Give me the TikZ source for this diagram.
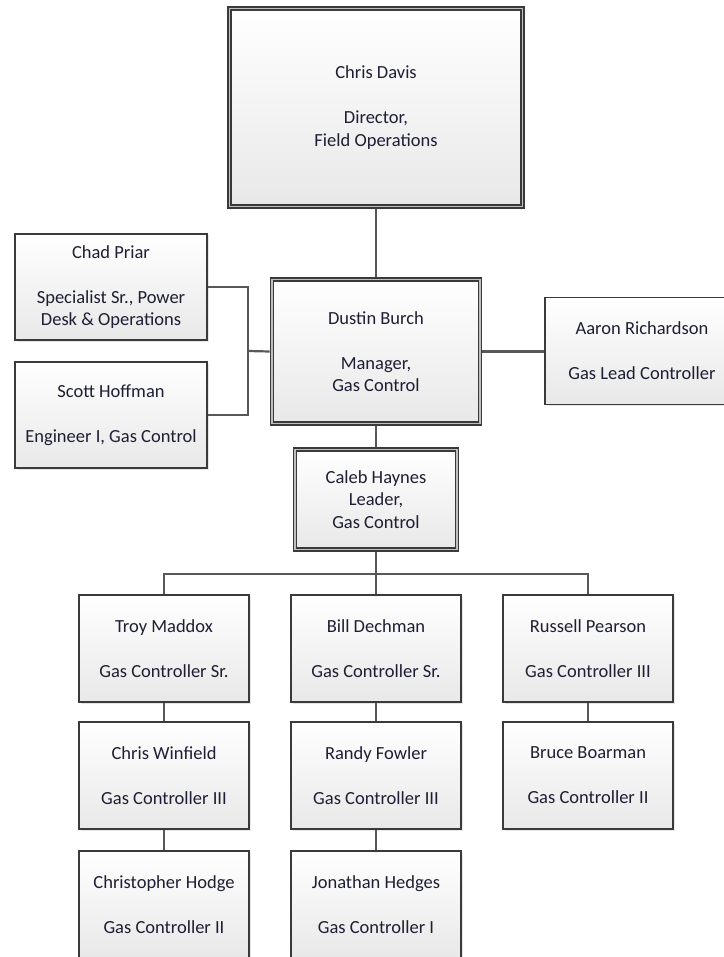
\documentclass[tikz,border=0pt]{standalone}
\usepackage{fontspec}
\setmainfont{Carlito}
\usetikzlibrary{shadows}
\definecolor{boxline}{RGB}{58,58,58}
\definecolor{wireline}{RGB}{88,88,88}
\definecolor{nametext}{RGB}{30,30,52}

\begin{document}
\begin{tikzpicture}[x=1pt,y=-1pt,
	person/.style={draw=boxline,line width=1.7pt,top color=white,bottom color=black!9,
		drop shadow={opacity=0.2,shadow xshift=1.5pt,shadow yshift=-1.5pt},
		text=nametext,align=center,inner sep=0pt,
		font=\fontsize{18.5}{22.5}\selectfont},
	lead/.style={person,line width=1.4pt,double=gray!50,double distance=1.8pt,outer sep=2.3pt},
	wire/.style={draw=wireline,line width=2.2pt}]
	\useasboundingbox (0,0) rectangle (723,957);

	\coordinate (LeftHub) at (248,351);
	\coordinate (Bus)     at (376,574);

	% top of the chart
	\node[lead,minimum width=293,minimum height=198] (Davis) at (376,107.5) {Chris Davis\\[22.5pt]Director,\\Field Operations};
	\node[lead,minimum width=208,minimum height=144] (Burch) at (376,351.5) {Dustin Burch\\[22.5pt]Manager,\\Gas Control};
	\node[lead,minimum width=162,minimum height=100] (Haynes) at (376,499.5) {Caleb Haynes\\Leader,\\Gas Control};

	% side boxes
	\node[person,minimum width=192,minimum height=106] (Priar) at (111,287) {Chad Priar\\[22.5pt]Specialist Sr., Power\\Desk \& Operations};
	\node[person,minimum width=192,minimum height=106] (Hoffman) at (111,415) {Scott Hoffman\\[22.5pt]Engineer I, Gas Control};
	\node[person,minimum width=194,minimum height=107] (Richardson) at (642,351) {Aaron Richardson\\[22.5pt]Gas Lead Controller};

	% controllers
	\node[person,minimum width=170,minimum height=107] (Maddox) at (164,648.5) {Troy Maddox\\[22.5pt]Gas Controller Sr.};
	\node[person,minimum width=170,minimum height=107] (Winfield) at (164,775.5) {Chris Winfield\\[22.5pt]Gas Controller III};
	\node[person,minimum width=170,minimum height=107] (Hodge) at (164,904.5) {Christopher Hodge\\[22.5pt]Gas Controller II};
	\node[person,minimum width=170,minimum height=107] (Dechman) at (376,648.5) {Bill Dechman\\[22.5pt]Gas Controller Sr.};
	\node[person,minimum width=170,minimum height=107] (Fowler) at (376,775.5) {Randy Fowler\\[22.5pt]Gas Controller III};
	\node[person,minimum width=170,minimum height=107] (Hedges) at (376,904.5) {Jonathan Hedges\\[22.5pt]Gas Controller I};
	\node[person,minimum width=170,minimum height=107] (Pearson) at (588,648.5) {Russell Pearson\\[22.5pt]Gas Controller III};
	\node[person,minimum width=170,minimum height=107] (Boarman) at (588,775.5) {Bruce Boarman\\[22.5pt]Gas Controller II};

	\draw[wire] (Davis.south) -- (Burch.north);
	\draw[wire] (Priar.east) -| (LeftHub) |- (Hoffman.east);
	\draw[wire] (LeftHub) -- (Burch.west);
	\draw[wire] (Burch.east) -- (Burch.east -| Richardson.west);
	\draw[wire] (Burch.south) -- (Haynes.north);
	\draw[wire] (Haynes.south) -- (Bus);
	\draw[wire] (Maddox.north) |- (Bus) -| (Pearson.north);
	\draw[wire] (Bus) -- (Dechman.north);
	\draw[wire] (Maddox) -- (Winfield) -- (Hodge);
	\draw[wire] (Dechman) -- (Fowler) -- (Hedges);
	\draw[wire] (Pearson) -- (Boarman);
\end{tikzpicture}
\end{document}
